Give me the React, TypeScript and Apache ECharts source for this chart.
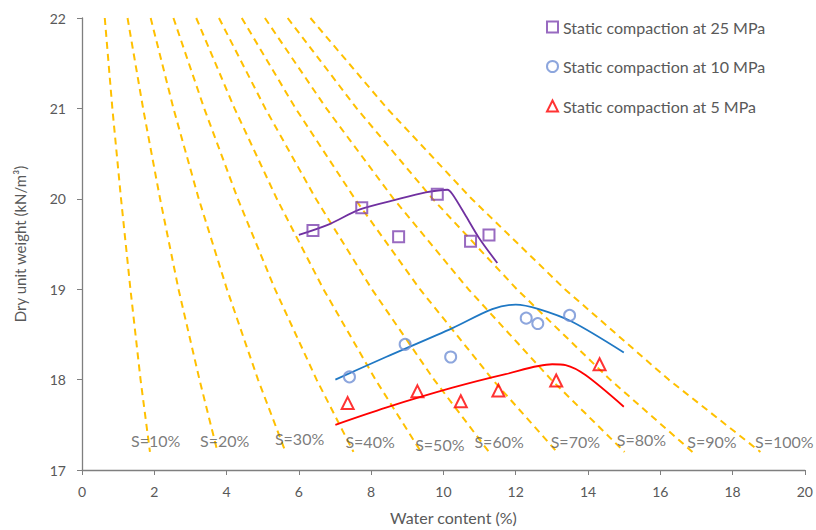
import React, { useEffect, useRef } from "react";
import * as echarts from "echarts";

// Saturation lines: water content (%) read at these dry unit weights
const satDryWeights = [22, 21, 20, 19, 18, 17.2];
const satLabels = ["S=10%", "S=20%", "S=30%", "S=40%", "S=50%", "S=60%", "S=70%", "S=80%", "S=90%", "S=100%"];
const satWater = [
  [0.63, 0.84, 1.08, 1.34, 1.62, 1.88],
  [1.26, 1.69, 2.16, 2.67, 3.25, 3.75],
  [1.9, 2.53, 3.23, 4.01, 4.87, 5.63],
  [2.53, 3.38, 4.31, 5.34, 6.49, 7.51],
  [3.16, 4.22, 5.39, 6.68, 8.12, 9.38],
  [3.79, 5.07, 6.47, 8.02, 9.74, 11.26],
  [4.42, 5.91, 7.55, 9.35, 11.36, 13.14],
  [5.06, 6.76, 8.62, 10.69, 12.98, 15.01],
  [5.69, 7.6, 9.7, 12.03, 14.61, 16.89],
  [6.32, 8.44, 10.78, 13.36, 16.23, 18.77],
];
// Saturation label anchor positions [w, gamma]
const satLabelPos = [
  [2.04, 17.33], [3.95, 17.33], [6.02, 17.35], [7.97, 17.32], [9.9, 17.28],
  [11.54, 17.31], [13.65, 17.31], [15.48, 17.34], [17.43, 17.32], [19.43, 17.32],
];

// Measured points
const pts25 = [[6.39, 19.65], [7.74, 19.9], [8.76, 19.58], [9.83, 20.05], [10.75, 19.53], [11.26, 19.6]];
const pts10 = [[7.4, 18.03], [8.94, 18.39], [10.2, 18.25], [12.29, 18.68], [12.61, 18.62], [13.49, 18.71]];
const pts5 = [[7.35, 17.74], [9.28, 17.87], [10.48, 17.76], [11.52, 17.88], [13.12, 17.99], [14.32, 18.17]];

// Fitted curves
const curve25 = [[6.0, 19.6], [6.85, 19.72], [7.67, 19.88], [8.69, 19.99], [9.51, 20.07], [10.11, 20.1], [10.25, 20.05], [10.62, 19.81], [10.98, 19.57], [11.49, 19.29]];
const curve10 = [[7.01, 18.0], [8.41, 18.25], [10.25, 18.57], [11.35, 18.78], [12.0, 18.83], [12.64, 18.78], [13.56, 18.64], [14.99, 18.3]];
const curve5 = [[7.01, 17.5], [8.41, 17.69], [10.25, 17.91], [11.72, 18.06], [13.01, 18.17], [13.38, 18.16], [13.93, 18.05], [14.99, 17.7]];

const legendNames = ["Static compaction at 25 MPa", "Static compaction at 10 MPa", "Static compaction at 5 MPa"];

const FONT = "Lato";
const TXT = "#595959";

export default function App() {
  const ref = useRef<HTMLDivElement>(null);
  useEffect(() => {
    if (!ref.current) return;
    const chart = echarts.init(ref.current, undefined, { renderer: "svg" });
    const satSeries = satWater.map((ws, i) => ({
      type: "line",
      name: satLabels[i],
      data: ws.map((w, j) => [w, satDryWeights[j]]),
      showSymbol: false,
      symbol: "none",
      silent: true,
      lineStyle: { color: "#FFC000", width: 2, type: [7, 5] },
      z: 1,
    }));
    chart.setOption({
      animation: false,
      backgroundColor: "#fff",
      grid: { left: 82, right: 9, top: 18, bottom: 58, containLabel: false },
      legend: {
        data: legendNames,
        orient: "vertical",
        left: 541,
        top: 14,
        itemGap: 23.5,
        itemWidth: 11,
        itemHeight: 11,
        textStyle: { color: TXT, fontFamily: FONT, fontSize: 16 },
      },
      xAxis: {
        type: "value",
        min: 0,
        max: 20,
        interval: 2,
        name: "Water content (%)",
        nameLocation: "middle",
        nameGap: 39,
        nameTextStyle: { color: TXT, fontFamily: FONT, fontSize: 16, padding: [0, 0, 0, 20] },
        axisLine: { lineStyle: { color: "#7F7F7F", width: 1.3 } },
        axisTick: { show: true, length: 5, lineStyle: { color: "#7F7F7F" } },
        axisLabel: { color: TXT, fontFamily: FONT, fontSize: 14, margin: 14 },
        splitLine: { show: false },
      },
      yAxis: {
        type: "value",
        min: 17,
        max: 22,
        interval: 1,
        name: "Dry unit weight (kN/m³)",
        nameLocation: "middle",
        nameGap: 55,
        nameRotate: 90,
        nameTextStyle: { color: TXT, fontFamily: FONT, fontSize: 15 },
        axisLine: { show: true, lineStyle: { color: "#7F7F7F", width: 1.3 } },
        axisTick: { show: true, length: 5, lineStyle: { color: "#7F7F7F" } },
        axisLabel: { color: TXT, fontFamily: FONT, fontSize: 14, margin: 16 },
        splitLine: { show: false },
      },
      series: [
        ...satSeries,
        {
          type: "scatter",
          name: "satLabels",
          silent: true,
          symbolSize: 0,
          data: satLabelPos.map((p, i) => ({ value: p, name: satLabels[i] })),
          label: {
            show: true,
            position: "inside",
            formatter: (p: any) => p.name,
            color: TXT,
            fontFamily: FONT,
            fontSize: 16,
          },
          z: 2,
        },
        {
          type: "line",
          name: "curve25",
          data: curve25,
          smooth: 0.3,
          symbol: "none",
          lineStyle: { color: "#7030A0", width: 1.8 },
          z: 3,
        },
        {
          type: "line",
          name: "curve10",
          data: curve10,
          smooth: 0.3,
          symbol: "none",
          lineStyle: { color: "#1F78C4", width: 1.8 },
          z: 3,
        },
        {
          type: "line",
          name: "curve5",
          data: curve5,
          smooth: 0.3,
          symbol: "none",
          lineStyle: { color: "#FF0000", width: 1.8 },
          z: 3,
        },
        {
          type: "scatter",
          name: legendNames[0],
          data: pts25,
          symbol: "rect",
          symbolSize: 11,
          itemStyle: { color: "rgba(255,255,255,0)", borderColor: "#7E45B0", borderWidth: 2 },
          z: 4,
        },
        {
          type: "scatter",
          name: legendNames[1],
          data: pts10,
          symbol: "circle",
          symbolSize: 11,
          itemStyle: { color: "rgba(255,255,255,0)", borderColor: "#7090D4", borderWidth: 2 },
          z: 4,
        },
        {
          type: "scatter",
          name: legendNames[2],
          data: pts5,
          symbol: "triangle",
          symbolSize: 12,
          itemStyle: { color: "rgba(255,255,255,0)", borderColor: "#FF0000", borderWidth: 2 },
          z: 4,
        },
      ],
    });
    return () => chart.dispose();
  }, []);
  return <div ref={ref} style={{ width: 816, height: 530, position: "absolute", left: 0, top: 0 }} />;
}
